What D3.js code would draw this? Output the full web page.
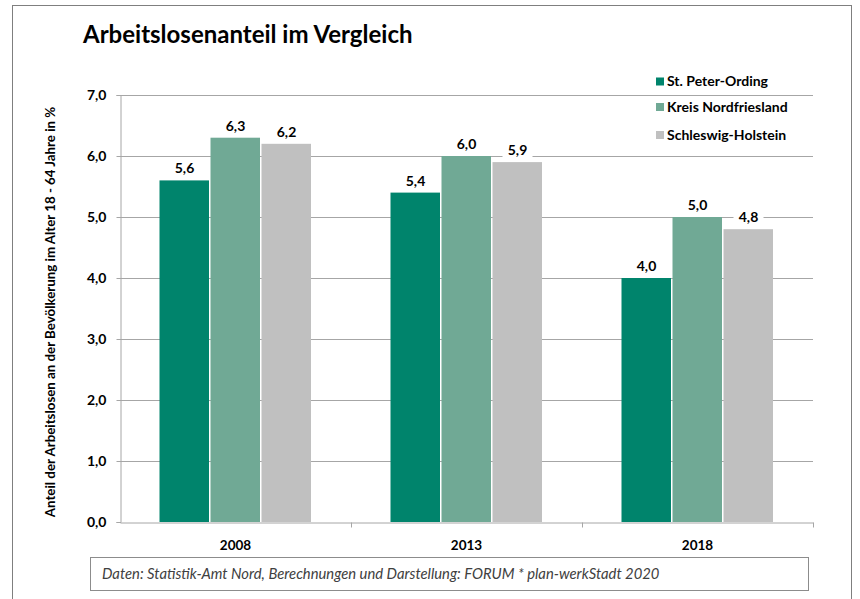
<!DOCTYPE html>
<html>
<head>
<meta charset="utf-8">
<script src="https://cdn.jsdelivr.net/npm/d3@7"></script>
<style>
  html, body { margin: 0; padding: 0; background: #fff; }
  svg { display: block; font-family: Lato, "Open Sans", sans-serif; }
</style>
</head>
<body>
<svg id="chart" width="860" height="599"></svg>
<script>
// Unemployment share by year and region
const years = ["2008", "2013", "2018"];
const seriesNames = ["St. Peter-Ording", "Kreis Nordfriesland", "Schleswig-Holstein"];
const stPeterOrding = [5.6, 5.4, 4.0];
const kreisNordfriesland = [6.3, 6.0, 5.0];
const schleswigHolstein = [6.2, 5.9, 4.8];
const yTicks = [0, 1, 2, 3, 4, 5, 6, 7];
const seriesColors = ["#00846c", "#70a995", "#c0c0c0"];

const seriesValues = [stPeterOrding, kreisNordfriesland, schleswigHolstein];
const fmt = v => d3.format(".1f")(v).replace(".", ",");

const svg = d3.select("#chart");

// outer frame
svg.append("rect")
  .attr("x", 12.5).attr("y", 5.5).attr("width", 839).attr("height", 620)
  .attr("fill", "none").attr("stroke", "#7f7f7f").attr("stroke-width", 1);

// title
svg.append("text")
  .attr("x", 83).attr("y", 43)
  .attr("font-size", 24).attr("font-weight", 700).attr("fill", "#000")
  .text("Arbeitslosenanteil im Vergleich");

const plot = { left: 120, right: 813, top: 95, bottom: 522 };

const x0 = d3.scaleBand().domain(years).range([plot.left, plot.right]).paddingInner(0).paddingOuter(0);
const x1 = d3.scaleBand().domain(seriesNames).range([39, x0.bandwidth() - 39]).paddingInner(0);
const y = d3.scaleLinear().domain([0, 7]).range([plot.bottom, plot.top]);

// gridlines
svg.append("g")
  .selectAll("line")
  .data(yTicks.filter(t => t > 0))
  .join("line")
  .attr("x1", plot.left).attr("x2", plot.right)
  .attr("y1", d => Math.round(y(d)) + 0.5).attr("y2", d => Math.round(y(d)) + 0.5)
  .attr("stroke", "#a6a6a6").attr("stroke-width", 1);

// y axis
const yAxis = svg.append("g")
  .attr("transform", `translate(${plot.left + 0.5},0)`)
  .call(d3.axisLeft(y).tickValues(yTicks).tickFormat(fmt).tickSize(4).tickPadding(10));
yAxis.select(".domain").attr("stroke", "#a6a6a6");
yAxis.selectAll(".tick line").attr("stroke", "#a6a6a6");
yAxis.selectAll(".tick text")
  .attr("font-family", "Lato, sans-serif").attr("font-size", 14).attr("font-weight", 700).attr("fill", "#000");

// x axis
const xAxis = svg.append("g")
  .attr("transform", `translate(0,${plot.bottom + 0.5})`)
  .call(d3.axisBottom(x0).tickSize(0).tickPadding(18));
xAxis.select(".domain").attr("stroke", "#a6a6a6");
xAxis.selectAll(".tick text")
  .attr("font-family", "Lato, sans-serif").attr("font-size", 13.5).attr("font-weight", 700).attr("fill", "#000");
// category separators
xAxis.append("g").selectAll("line")
  .data(years)
  .join("line")
  .attr("x1", d => Math.round(x0(d) + x0.bandwidth()) + 0.5)
  .attr("x2", d => Math.round(x0(d) + x0.bandwidth()) + 0.5)
  .attr("y1", 0).attr("y2", 5)
  .attr("stroke", "#a6a6a6");

// bars
const groups = svg.append("g").selectAll("g")
  .data(years)
  .join("g")
  .attr("transform", d => `translate(${x0(d)},0)`);

const barData = (year, i) => seriesNames.map((name, s) => ({ name, s, value: seriesValues[s][i] }));

groups.each(function(year, i) {
  const g = d3.select(this);
  const data = barData(year, i);
  g.selectAll("rect.bar")
    .data(data)
    .join("rect")
    .attr("class", "bar")
    .attr("x", d => x1(d.name) + 0.5)
    .attr("width", x1.bandwidth() - 1.5)
    .attr("y", d => y(d.value))
    .attr("height", d => y(0) - y(d.value))
    .attr("fill", d => seriesColors[d.s]);

  const labels = g.selectAll("g.lbl")
    .data(data)
    .join("g")
    .attr("class", "lbl")
    .attr("transform", d => `translate(${x1(d.name) + x1.bandwidth() / 2},${y(d.value) - 12})`);
  labels.append("rect")
    .attr("x", -15).attr("y", -11).attr("width", 30).attr("height", 18)
    .attr("fill", "#fff");
  labels.append("text")
    .attr("text-anchor", "middle").attr("dy", "0.35em")
    .attr("font-size", 14).attr("font-weight", 700).attr("fill", "#000")
    .text(d => fmt(d.value));
});

// y axis title
svg.append("text")
  .attr("transform", `translate(55,312) rotate(-90)`)
  .attr("text-anchor", "middle")
  .attr("font-size", 13.3).attr("font-weight", 700).attr("fill", "#000")
  .text("Anteil der Arbeitslosen an der Bevölkerung im Alter 18 - 64 Jahre in %");

// legend
const legend = svg.append("g").attr("transform", "translate(656,0)");
const legendY = [81.5, 107, 135];
seriesNames.forEach((name, s) => {
  legend.append("rect")
    .attr("x", 0).attr("y", legendY[s] - 4).attr("width", 8).attr("height", 8)
    .attr("fill", seriesColors[s]);
  legend.append("text")
    .attr("x", 11).attr("y", legendY[s]).attr("dy", "0.35em")
    .attr("font-size", 14).attr("font-weight", 700).attr("fill", "#000")
    .text(name);
});

// source note
svg.append("rect")
  .attr("x", 90.5).attr("y", 557.5).attr("width", 718).attr("height", 33)
  .attr("fill", "#fff").attr("stroke", "#8c8c8c");
svg.append("text")
  .attr("x", 102).attr("y", 579)
  .attr("font-size", 14.8).attr("font-style", "italic").attr("fill", "#404040")
  .text("Daten: Statistik-Amt Nord, Berechnungen und Darstellung: FORUM * plan-werkStadt 2020");
</script>
</body>
</html>
